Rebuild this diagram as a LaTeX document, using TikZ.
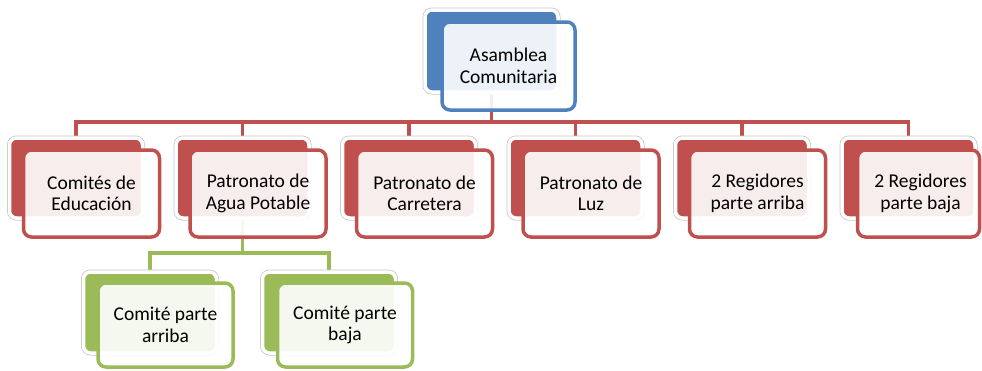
\documentclass[tikz,border=0pt]{standalone}
\usepackage{fontspec}
\setmainfont{Carlito}
\usetikzlibrary{backgrounds}
\definecolor{cblue}{HTML}{4F81BD}
\definecolor{cred}{HTML}{C0504D}
\definecolor{cgreen}{HTML}{9BBB59}
\tikzset{
 backbox/.style={rectangle, rounded corners=7pt, fill=#1, minimum width=133pt, minimum height=80pt, inner sep=0pt,
   preaction={draw=black!22, line width=5pt}, draw=white, line width=3.5pt},
 frontbox/.style={rectangle, rounded corners=8pt, fill=white, fill opacity=0.9, text opacity=1, draw=#1, line width=3.5pt,
   minimum width=136pt, minimum height=87pt, inner sep=0pt, align=center, font=\fontsize{19.5}{21.5}\selectfont},
 conn/.style={draw=#1, line width=3.5pt}
}
\begin{document}
\begin{tikzpicture}[x=1pt,y=-1pt]
\useasboundingbox (0,0) rectangle (982,370);
\coordinate (rbar) at (0,122);
\coordinate (gbar) at (0,253);
% top
\node[backbox=cblue, minimum height=82pt] (bA) at (491.5,51) {};
\node[frontbox=cblue, minimum width=133pt, minimum height=88pt] (fA) at (508.5,66) {Asamblea\\Comunitaria};
% red row
\node[backbox=cred] (b1) at (76,178) {};
\node[frontbox=cred] (f1) at (91.5,193.5) {Comités de\\Educación};
\node[backbox=cred] (b2) at (242.5,178) {};
\node[frontbox=cred] (f2) at (258,193.5) {Patronato de\\Agua Potable};
\node[backbox=cred] (b3) at (409,178) {};
\node[frontbox=cred] (f3) at (424.5,193.5) {Patronato de\\Carretera};
\node[backbox=cred] (b4) at (575.5,178) {};
\node[frontbox=cred] (f4) at (591,193.5) {Patronato de\\Luz};
\node[backbox=cred] (b5) at (742,178) {};
\node[frontbox=cred] (f5) at (757.5,193.5) {2 Regidores\\parte arriba};
\node[backbox=cred] (b6) at (908.5,178) {};
\node[frontbox=cred, minimum width=122pt] (f6) at (918.5,193.5) {\hspace*{4pt}2 Regidores\\\hspace*{4pt}parte baja};
% green row
\node[backbox=cgreen, minimum height=81pt] (g1) at (150,312.5) {};
\node[frontbox=cgreen, minimum width=135pt, minimum height=84pt] (h1) at (165.5,325) {Comité parte\\arriba};
\node[backbox=cgreen, minimum height=81pt] (g2) at (329,312.5) {};
\node[frontbox=cgreen, minimum width=135pt, minimum height=84pt] (h2) at (345,325) {Comité parte\\baja};
% connectors
\begin{scope}[on background layer]
\draw[conn=cred] (bA.south) -- (bA.south |- rbar);
\draw[conn=cred] (b1.north) -- (b1.north |- rbar) -- (b6.north |- rbar) -- (b6.north);
\foreach \n in {2,...,5} {\draw[conn=cred] (b\n.north) -- (b\n.north |- rbar);}
\draw[conn=cgreen] (b2.south) -- (b2.south |- gbar);
\draw[conn=cgreen] (g1.north) -- (g1.north |- gbar) -- (g2.north |- gbar) -- (g2.north);
\end{scope}
\end{tikzpicture}
\end{document}
